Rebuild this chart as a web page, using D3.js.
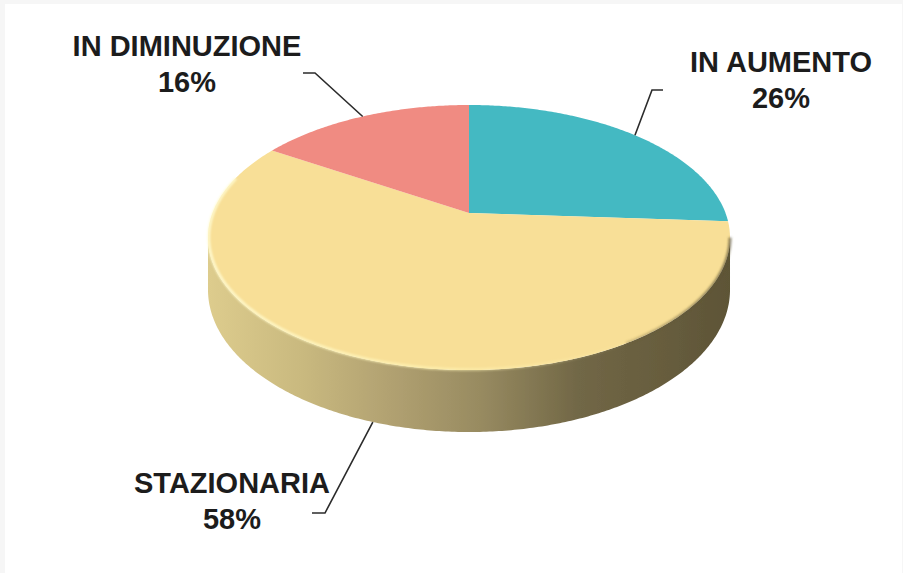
<!DOCTYPE html>
<html>
<head>
<meta charset="utf-8">
<script src="https://cdn.jsdelivr.net/npm/d3@7"></script>
<style>
  body { margin: 0; background: #ffffff; }
  svg { display: block; }
</style>
</head>
<body>
<svg id="chart"></svg>
<script>
// chart data
var categories = ["IN AUMENTO", "STAZIONARIA", "IN DIMINUZIONE"];
var values = [26, 58, 16];
var sliceColors = ["#44b9c2", "#f8df97", "#f08b82"];

var width = 903;
var height = 573;

// perspective of the 3d pie (screen space)
var cx = 469;      // centre x
var sx = 256.5;    // horizontal radius
var pa = 88.6;     // vertical scale term
var pb = 213;      // y of pie apex
var pc = -0.185;   // perspective term
var depth = 50.5;  // thickness of the pie

// label layout: elbow / end of leader line and text position
var labelLayout = [
  { elbow: [652, 90], end: [663, 90], tx: 781, ty: 72 },
  { elbow: [325, 513], end: [312, 513], tx: 232, ty: 493 },
  { elbow: [315, 73], end: [303, 73], tx: 187, ty: 56 }
];

function proj(theta, r, z) {
  var u = r * Math.sin(theta);
  var v = -r * Math.cos(theta);
  var den = 1 + pc * v;
  return [cx + sx * u / den, (pa * v + pb) / den + z * depth / den];
}

function rimPoints(a0, a1, z, r) {
  if (r === undefined) r = 1;
  var n = Math.max(2, Math.ceil(Math.abs(a1 - a0) / 0.01));
  return d3.range(n + 1).map(function(i) {
    return proj(a0 + (a1 - a0) * i / n, r, z);
  });
}

var line = d3.line();

var svg = d3.select("#chart")
  .attr("width", width)
  .attr("height", height);

// frame
svg.append("rect")
  .attr("width", width)
  .attr("height", height)
  .attr("fill", "#f6f6f6");
svg.append("rect")
  .attr("x", 5)
  .attr("y", 4)
  .attr("width", width - 6)
  .attr("height", height - 4)
  .attr("fill", "#ffffff");

var defs = svg.append("defs");

var sideGrad = defs.append("linearGradient")
  .attr("id", "sideGrad")
  .attr("gradientUnits", "userSpaceOnUse")
  .attr("x1", 208).attr("x2", 730)
  .attr("y1", 0).attr("y2", 0);
[[0, "#ddcc8d"], [0.18, "#c9b97f"], [0.35, "#b1a171"], [0.52, "#988b61"],
 [0.71, "#716746"], [0.9, "#655b3c"], [1, "#5d5436"]].forEach(function(s) {
  sideGrad.append("stop").attr("offset", s[0]).attr("stop-color", s[1]);
});

var hiGrad = defs.append("linearGradient")
  .attr("id", "hiGrad")
  .attr("gradientUnits", "userSpaceOnUse")
  .attr("x1", 208).attr("x2", 640)
  .attr("y1", 0).attr("y2", 0);
[[0, "#fffbd2", 1], [0.5, "#fff4b4", 0.8], [1, "#fff4b4", 0]].forEach(function(s) {
  hiGrad.append("stop").attr("offset", s[0]).attr("stop-color", s[1]).attr("stop-opacity", s[2]);
});

var shGrad = defs.append("linearGradient")
  .attr("id", "shGrad")
  .attr("gradientUnits", "userSpaceOnUse")
  .attr("x1", 560).attr("x2", 730)
  .attr("y1", 0).attr("y2", 0);
[[0, "#6a5f3c", 0], [1, "#5d5436", 0.7]].forEach(function(s) {
  shGrad.append("stop").attr("offset", s[0]).attr("stop-color", s[1]).attr("stop-opacity", s[2]);
});

defs.append("filter").attr("id", "soft")
  .append("feGaussianBlur").attr("stdDeviation", 0.8);
defs.append("filter").attr("id", "soft2")
  .append("feGaussianBlur").attr("stdDeviation", 0.5);

var pie = d3.pie().sort(null).value(function(d) { return d; });
var arcs = pie(values);

// silhouette angles of the side wall (where the rim is widest)
var thR = Math.acos(pc);            // right side
var thL = 2 * Math.PI - thR;        // left side

// side walls
var sideG = svg.append("g").attr("filter", "url(#soft2)");
arcs.forEach(function(d, i) {
  var a0 = Math.max(d.startAngle, thR);
  var a1 = Math.min(d.endAngle, thL);
  if (a1 <= a0) return;
  var top = rimPoints(a0, a1, 0);
  var bottom = rimPoints(a1, a0, 1);
  sideG.append("path")
    .attr("d", line(top.concat(bottom)) + "Z")
    .attr("fill", "url(#sideGrad)");
});

// top faces
var topG = svg.append("g");
arcs.forEach(function(d, i) {
  var pts = [proj(0, 0, 0)].concat(rimPoints(d.startAngle, d.endAngle, 0));
  topG.append("path")
    .attr("d", line(pts) + "Z")
    .attr("fill", sliceColors[i]);
});

// bevel highlight and shade on the front rim
svg.append("path")
  .attr("d", line(rimPoints(2.3, 5.0, 0, 0.997)))
  .attr("fill", "none")
  .attr("stroke", "url(#hiGrad)")
  .attr("stroke-width", 2.5)
  .attr("filter", "url(#soft)");
svg.append("path")
  .attr("d", line(rimPoints(thR, 2.6, 0, 1)))
  .attr("fill", "none")
  .attr("stroke", "url(#shGrad)")
  .attr("stroke-width", 3)
  .attr("filter", "url(#soft)");

// leader lines and labels
var labelG = svg.append("g");
arcs.forEach(function(d, i) {
  var mid = (d.startAngle + d.endAngle) / 2;
  var front = Math.cos(mid) < 0;
  var anchor = proj(mid, 1, front ? 1 : 0);
  var lay = labelLayout[i];
  labelG.append("path")
    .attr("d", line([anchor, lay.elbow, lay.end]))
    .attr("fill", "none")
    .attr("stroke", "#2b2b2b")
    .attr("stroke-width", 1.6);

  var t = labelG.append("text")
    .attr("x", lay.tx)
    .attr("y", lay.ty)
    .attr("text-anchor", "middle")
    .attr("font-family", "'Liberation Sans', Arial, sans-serif")
    .attr("font-weight", "bold")
    .attr("font-size", "29px")
    .attr("fill", "#1c1c1c");
  t.append("tspan").attr("x", lay.tx).text(categories[i]);
  t.append("tspan").attr("x", lay.tx).attr("dy", 36).text(d.data + "%");
});
</script>
</body>
</html>
